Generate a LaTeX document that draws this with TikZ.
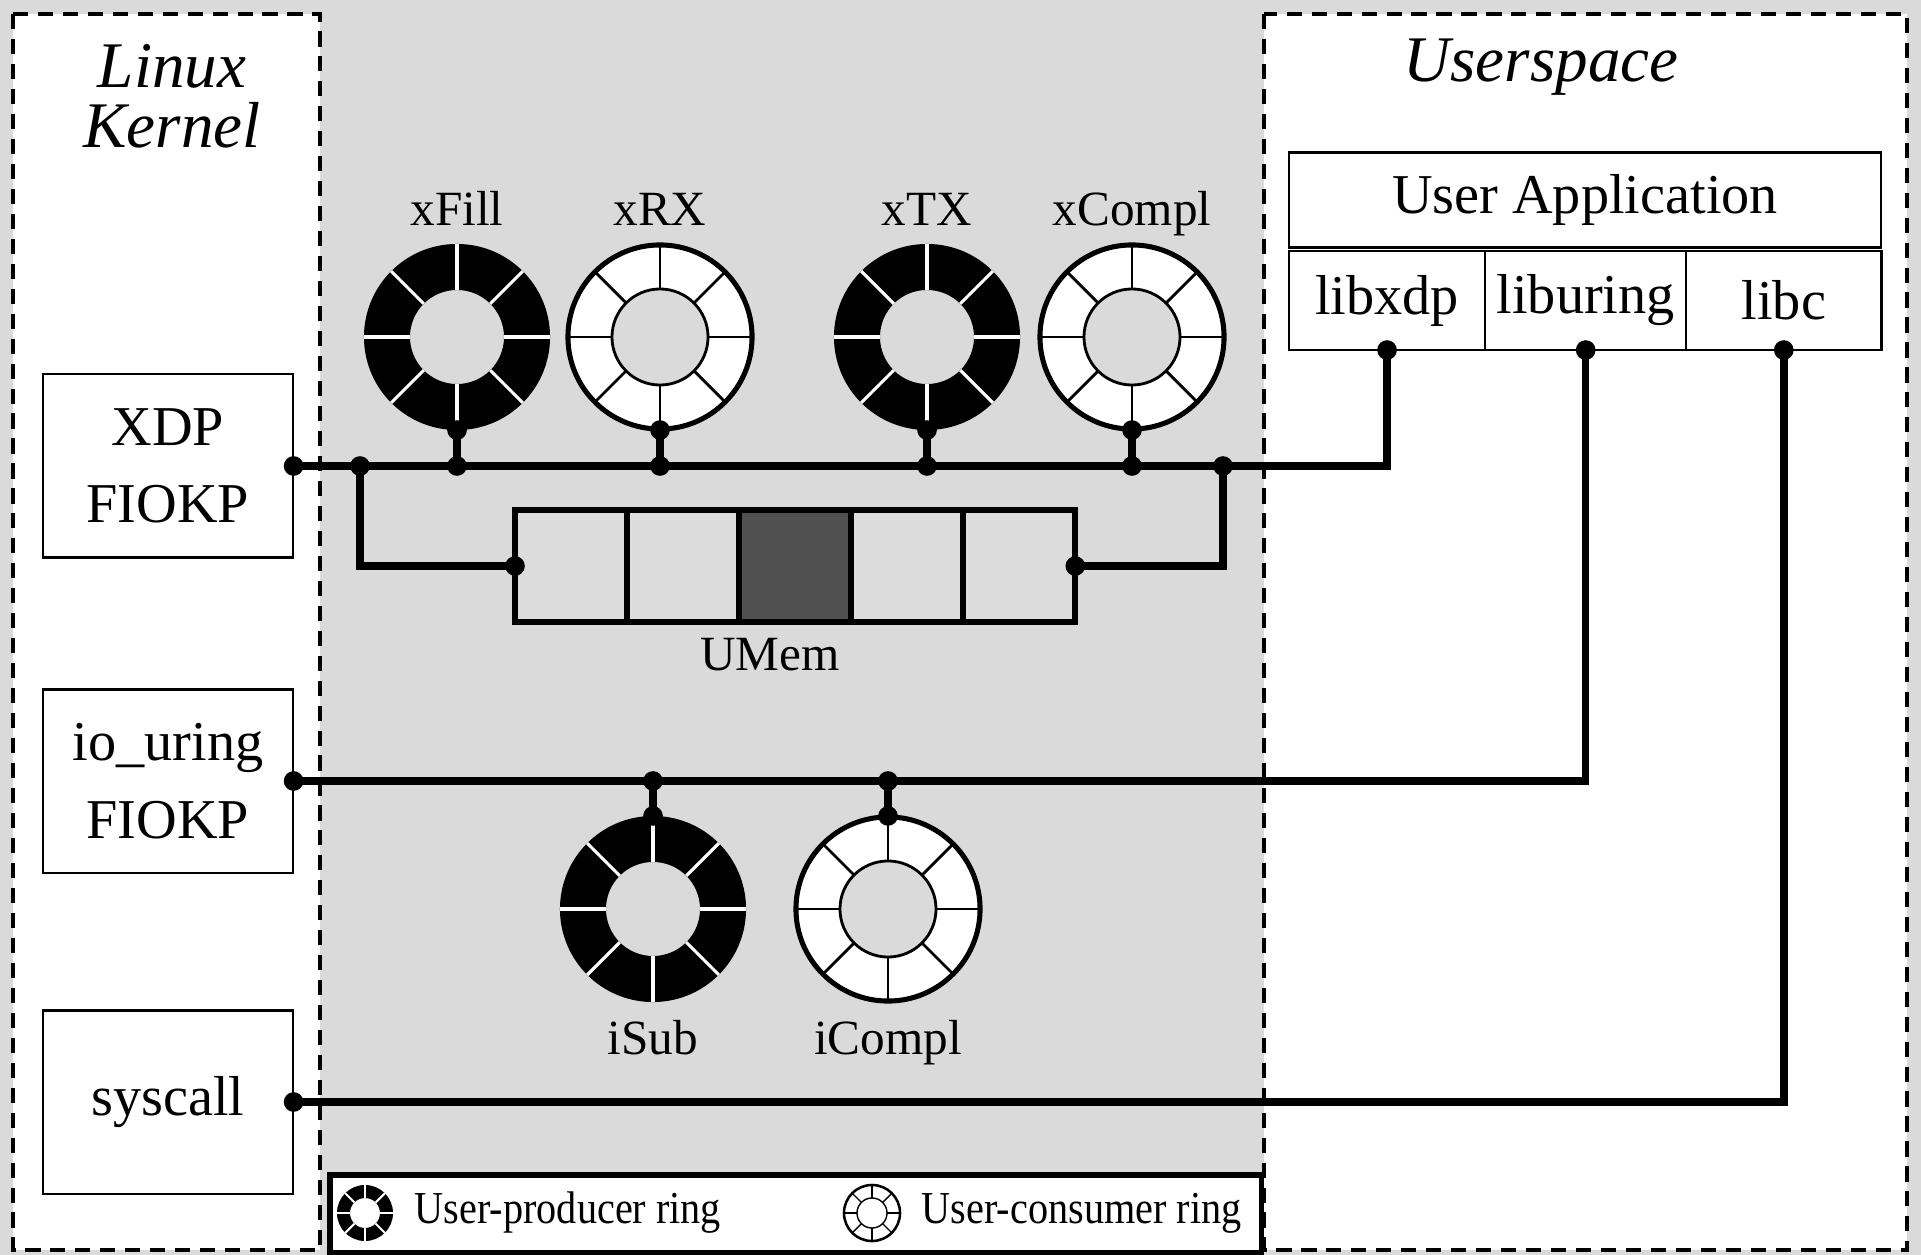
\documentclass[tikz,border=0pt]{standalone}
\usepackage{fontspec}
\setmainfont{Liberation Serif}
\newfontfamily\legendfont{Liberation Serif}[FakeStretch=0.88]
\usepackage{tikz}
\usetikzlibrary{positioning,calc}
\usepackage{xcolor}

\definecolor{midgray}{HTML}{DADADA}
\definecolor{cellgray}{HTML}{DCDCDC}
\definecolor{usedcell}{HTML}{505050}

% ring glyphs: node name, outer radius, inner radius, line width
\newcommand{\prodring}[4]{%
  \fill[black,even odd rule] (#1) circle (#2) (#1) circle (#3);
  \foreach \a in {0,45,...,315}
    \draw[white,line width=#4] ($(#1)+(\a:#3)$) -- ($(#1)+(\a:#2)$);
}
\newcommand{\consring}[4]{%
  \fill[white,even odd rule] (#1) circle (#2) (#1) circle (#3);
  \foreach \a in {0,45,...,315}
    \draw[line width=#4] ($(#1)+(\a:#3)$) -- ($(#1)+(\a:#2)$);
  \draw[line width=#4] (#1) circle (#3);
  \draw[line width=1.8*#4] (#1) circle (#2);
}

\begin{document}
\begin{tikzpicture}[
  x=0.01cm,y=-0.01cm,
  region/.style={draw,fill=white,line width=1.1pt,dash pattern=on 4.3pt off 2.8pt},
  kbox/.style={draw,fill=white,line width=0.6pt,align=center,inner sep=0pt,
    minimum width=2.49cm,minimum height=1.83cm,font=\fontsize{16}{22}\selectfont},
  libbox/.style={draw,fill=white,line width=0.7pt,inner sep=0pt,outer sep=0pt,
    minimum height=0.99cm,font=\fontsize{16}{19}\selectfont},
  ringnode/.style={circle,minimum size=1.86cm,inner sep=0pt,outer sep=0pt},
  ringlbl/.style={font=\fontsize{14}{16}\selectfont,inner sep=0pt,text height=1.6ex,text depth=0pt},
  cell/.style={draw,line width=1.6pt,fill=cellgray,inner sep=0pt,outer sep=0pt,
    minimum width=1.12cm,minimum height=1.12cm},
  title/.style={font=\fontsize{18.5}{17}\selectfont\itshape,align=center},
  legtext/.style={font=\fontsize{13}{15}\legendfont,inner sep=0pt},
  bus/.style={line width=2.1pt},
  dot/.style={circle,fill,inner sep=0pt,minimum size=5.6pt}
]
\fill[midgray] (0,0) rectangle (1921,1255);
\useasboundingbox (0,0) rectangle (1921,1255);

\draw[region] (13,14) rectangle (320,1250);
\draw[region] (1264,14) rectangle (1907,1250);

\node[title] (kernel) at (172,96) {Linux\\Kernel};
\node[title] (user) at (1541,67) {Userspace};

% kernel side
\node[kbox] (xdp) at (168,466) {XDP\\FIOKP};
\node[kbox] (iou) at (168,781) {io\_uring\\FIOKP};
\node[kbox] (sys) at (168,1102) {syscall};

% user side
\node[libbox,minimum width=5.92cm,minimum height=0.95cm] (app) at (1585,200) {User Application};
\node[libbox,minimum width=1.96cm,anchor=north west] (libxdp) at (1289,251) {libxdp};
\node[libbox,minimum width=2.01cm,right=0pt of libxdp] (liburing) {liburing};
\node[libbox,minimum width=1.95cm,right=0pt of liburing] (libc) {libc};

% rings
\node[ringnode,label={[ringlbl,label distance=0.18cm]above:xFill}] (xfill) at (457,337) {};
\node[ringnode,label={[ringlbl,label distance=0.18cm]above:xRX}] (xrx) at (660,337) {};
\node[ringnode,label={[ringlbl,label distance=0.18cm]above:xTX}] (xtx) at (927,337) {};
\node[ringnode,label={[ringlbl,label distance=0.18cm]above:xCompl}] (xcompl) at (1132,337) {};
\node[ringnode,label={[ringlbl,label distance=0.26cm]below:iSub}] (isub) at (653,909) {};
\node[ringnode,label={[ringlbl,label distance=0.26cm]below:iCompl}] (icompl) at (888,909) {};
\prodring{xfill}{0.93cm}{0.47cm}{0.9pt}
\consring{xrx}{0.92cm}{0.48cm}{0.8pt}
\prodring{xtx}{0.93cm}{0.47cm}{0.9pt}
\consring{xcompl}{0.92cm}{0.48cm}{0.8pt}
\prodring{isub}{0.93cm}{0.47cm}{0.9pt}
\consring{icompl}{0.92cm}{0.48cm}{0.8pt}

% umem
\node[cell] (m1) at (571,566) {};
\node[cell,right=0pt of m1] (m2) {};
\node[cell,right=0pt of m2,fill=usedcell] (m3) {};
\node[cell,right=0pt of m3] (m4) {};
\node[cell,right=0pt of m4] (m5) {};
\node[ringlbl,below=0.22cm of m3,xshift=-0.25cm] (umem) {UMem};

\coordinate (jl) at (360,466);
\coordinate (jr) at (1223,466);

% wiring
\draw[bus] (xdp.east) -| (libxdp.south);
\draw[bus] (iou.east) -| (liburing.south);
\draw[bus] (sys.east) -| (libc.south);
\draw[bus] (jl) |- (m1.west);
\draw[bus] (jr) |- (m5.east);
\foreach \r in {xfill,xrx,xtx,xcompl}{
  \draw[bus] (\r.south) -- (\r.south |- xdp.east);
  \node[dot] at (\r.south) {};
  \node[dot] at (\r.south |- xdp.east) {};
}
\foreach \r in {isub,icompl}{
  \draw[bus] (\r.north) -- (\r.north |- iou.east);
  \node[dot] at (\r.north) {};
  \node[dot] at (\r.north |- iou.east) {};
}
\foreach \p in {xdp.east,iou.east,sys.east,libxdp.south,liburing.south,libc.south,jl,jr,m1.west,m5.east}
  \node[dot] at (\p) {};

% legend
\node[draw,fill=white,line width=1.6pt,minimum width=9.31cm,minimum height=0.78cm,
  inner sep=0pt,anchor=north west] (legend) at (327,1172) {};
\node[ringnode,minimum size=0.56cm] (lprod) at (365,1213) {};
\node[ringnode,minimum size=0.56cm] (lcons) at (872,1213) {};
\prodring{lprod}{0.28cm}{0.15cm}{0.6pt}
\consring{lcons}{0.28cm}{0.15cm}{0.4pt}
\node[legtext,right=0.21cm of lprod] (lprodtext) {User-producer ring};
\node[legtext,right=0.21cm of lcons] (lconstext) {User-consumer ring};
\end{tikzpicture}
\end{document}
